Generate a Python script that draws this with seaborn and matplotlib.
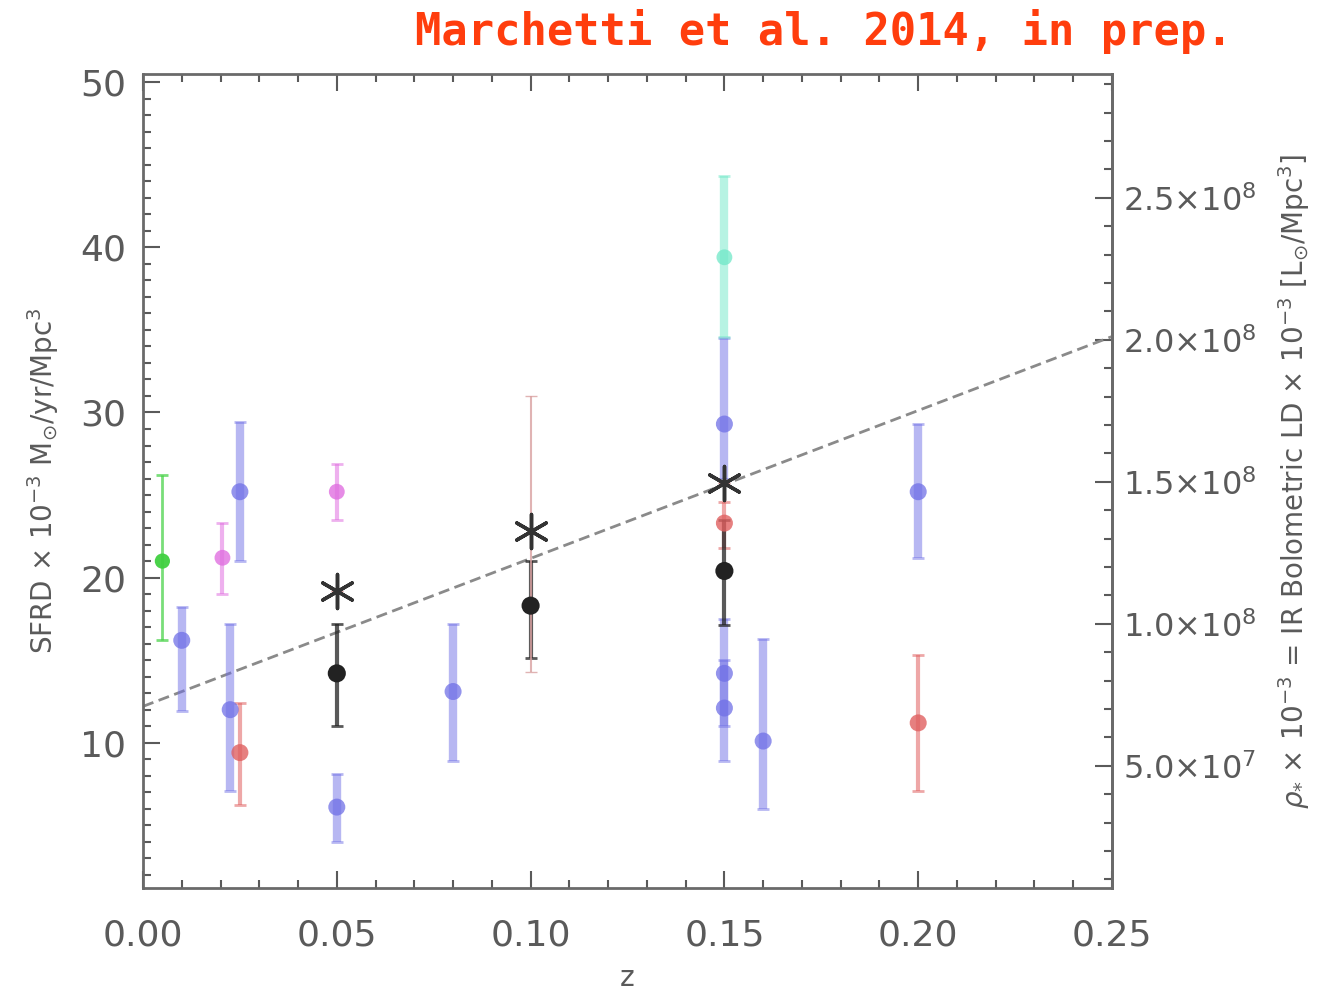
import numpy as np
import pandas as pd
import matplotlib
matplotlib.use('Agg')
import matplotlib.pyplot as plt
from matplotlib.ticker import MultipleLocator, FixedLocator
import seaborn as sns

# Точки данных (z, SFRD и границы ошибок)
blue_z = [0.010, 0.0225, 0.025, 0.05, 0.08, 0.15, 0.15, 0.15, 0.16, 0.20]
blue_sfrd = [16.2, 12.0, 25.2, 6.1, 13.1, 29.3, 14.2, 12.1, 10.1, 25.2]
blue_lo = [11.9, 7.1, 21.0, 4.0, 8.9, 26.0, 11.0, 8.9, 6.0, 21.2]
blue_hi = [18.2, 17.2, 29.4, 8.1, 17.2, 34.5, 17.5, 15.0, 16.3, 29.3]

red_z = [0.025, 0.15, 0.20]
red_sfrd = [9.4, 23.3, 11.2]
red_lo = [6.2, 21.8, 7.1]
red_hi = [12.4, 24.6, 15.3]

magenta_z = [0.0205, 0.05]
magenta_sfrd = [21.2, 25.2]
magenta_lo = [19.0, 23.5]
magenta_hi = [23.3, 26.9]

green_z = [0.005]
green_sfrd = [21.0]
green_lo = [16.2]
green_hi = [26.2]

cyan_z = [0.15]
cyan_sfrd = [39.4]
cyan_lo = [34.6]
cyan_hi = [44.3]

black_z = [0.05, 0.10, 0.15]
black_sfrd = [14.2, 18.3, 20.4]
black_lo = [11.0, 15.1, 17.1]
black_hi = [17.2, 21.0, 23.5]

star_z = [0.05, 0.10, 0.15]
star_sfrd = [19.2, 22.8, 25.7]
star_lo = [19.2, 14.3, 25.7]
star_hi = [19.2, 31.0, 25.7]

fit_z = [0.0, 0.25]
fit_sfrd = [12.2, 34.6]

SFR_PER_LD = 1.72e-7  # SFRD = LD * 1.72e-7

sns.set_style('ticks')
plt.rcParams['font.family'] = ['DejaVu Sans']
GRAY = '#5a5a5a'

fig = plt.figure(figsize=(13.26, 9.96), dpi=100)
ax = fig.add_axes([143 / 1326, 1 - 888 / 996, (1112 - 143) / 1326, (888 - 74) / 996])

# пунктирная линия
df_fit = pd.DataFrame({'z': fit_z, 'sfrd': fit_sfrd})
sns.lineplot(data=df_fit, x='z', y='sfrd', ax=ax, color='#8a8a8a', lw=2,
             linestyle=(0, (4, 2)), zorder=2)


def draw_group(z, y, lo, hi, color, lw, ms, alpha, marker='o', mcolor=None):
    z = np.array(z)
    y = np.array(y)
    yerr = np.vstack([y - np.array(lo), np.array(hi) - y])
    ax.errorbar(z, y, yerr=yerr, fmt='none', ecolor=color, elinewidth=lw,
                capsize=4, capthick=2, alpha=alpha, zorder=3)
    df = pd.DataFrame({'z': z, 'sfrd': y})
    sns.scatterplot(data=df, x='z', y='sfrd', ax=ax, color=mcolor or color,
                    marker=marker, s=ms, alpha=min(1, alpha + 0.25),
                    edgecolor='none', zorder=4)


draw_group(blue_z, blue_sfrd, blue_lo, blue_hi, '#7070e6', 6, 150, 0.5)
draw_group(red_z, red_sfrd, red_lo, red_hi, '#e06060', 3, 150, 0.55)
draw_group(magenta_z, magenta_sfrd, magenta_lo, magenta_hi, '#e070e0', 3, 130, 0.55)
draw_group(green_z, green_sfrd, green_lo, green_hi, '#40d040', 2, 120, 0.7)
draw_group(cyan_z, cyan_sfrd, cyan_lo, cyan_hi, '#70e8c8', 6, 130, 0.5)
draw_group(black_z, black_sfrd, black_lo, black_hi, '#222222', 3, 170, 0.75)

# звёздочки с бледными ошибками
sy = np.array(star_sfrd)
ax.errorbar(star_z, sy, yerr=np.vstack([sy - np.array(star_lo), np.array(star_hi) - sy]),
            fmt='none', ecolor='#d9a0a0', elinewidth=1.5, capsize=4, alpha=0.8, zorder=3)
df_star = pd.DataFrame({'z': star_z, 'sfrd': star_sfrd})
sns.scatterplot(data=df_star, x='z', y='sfrd', ax=ax, marker=(6, 2, 0), s=600,
                color='#333333', linewidth=2.5, zorder=5)

ax.set_xlim(0, 0.25)
ax.set_ylim(1.2, 50.5)
ax.xaxis.set_major_locator(MultipleLocator(0.05))
ax.xaxis.set_minor_locator(MultipleLocator(0.01))
ax.yaxis.set_major_locator(MultipleLocator(10))
ax.yaxis.set_minor_locator(MultipleLocator(1))
ax.set_xticks([0, 0.05, 0.10, 0.15, 0.20, 0.25])
ax.set_xticklabels(['0.00', '0.05', '0.10', '0.15', '0.20', '0.25'])
ax.set_yticks([10, 20, 30, 40, 50])

ax.tick_params(which='both', direction='in', top=True, right=False, colors=GRAY,
               labelcolor=GRAY, labelsize=26, width=1.5)
ax.tick_params(axis='x', which='major', length=12, pad=22)
ax.tick_params(axis='y', which='major', length=12, pad=12)
ax.tick_params(which='minor', length=6)
for s in ax.spines.values():
    s.set_color('#6a6a6a')
    s.set_linewidth(2)

ax.set_xlabel('z', fontsize=20, color=GRAY, labelpad=8)
ax.set_ylabel(r'SFRD $\times$ 10$^{-3}$ M$_{\odot}$/yr/Mpc$^{3}$', fontsize=20,
              color=GRAY, labelpad=14)

# правая ось: светимость
sec = ax.secondary_yaxis('right', functions=(lambda s: s / SFR_PER_LD,
                                              lambda l: l * SFR_PER_LD))
ld_ticks = [5e7, 1.0e8, 1.5e8, 2.0e8, 2.5e8]
sec.yaxis.set_major_locator(FixedLocator(ld_ticks))
sec.yaxis.set_minor_locator(MultipleLocator(1e7))
sec.set_yticklabels([r'5.0$\times$10$^{7}$', r'1.0$\times$10$^{8}$', r'1.5$\times$10$^{8}$',
                     r'2.0$\times$10$^{8}$', r'2.5$\times$10$^{8}$'])
sec.tick_params(which='both', direction='in', colors=GRAY, labelcolor=GRAY,
                labelsize=23, width=1.5)
sec.tick_params(which='major', length=12, pad=8)
sec.tick_params(which='minor', length=6)
sec.spines['right'].set_color('#6a6a6a')
sec.spines['right'].set_linewidth(2)
sec.set_ylabel(r'$\rho_{*}$ $\times$ 10$^{-3}$ = IR Bolometric LD $\times$ 10$^{-3}$ [L$_{\odot}$/Mpc$^{3}$]',
               fontsize=20, color=GRAY, labelpad=14)

fig.text(415 / 1326, 1 - 31 / 996, 'Marchetti et al. 2014, in prep.', color='#ff3d0d',
         fontsize=31.5, fontweight='bold', family='DejaVu Sans Mono', ha='left', va='center')

fig.savefig('out.png', dpi=100)
